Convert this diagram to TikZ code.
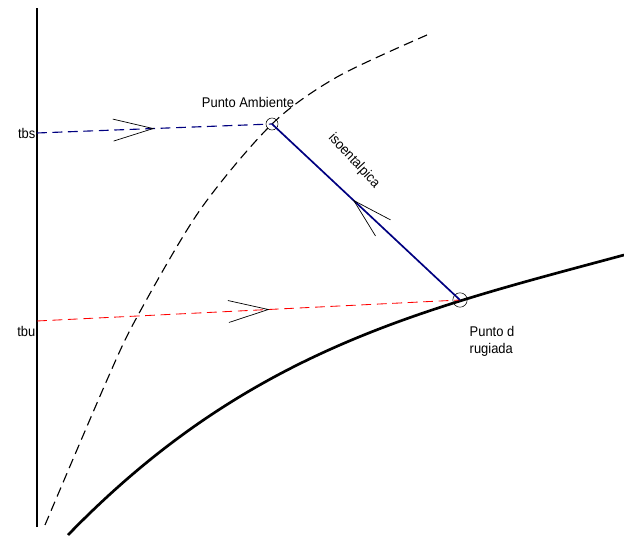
\documentclass[tikz,border=0pt]{standalone}
\usepackage{fontspec}
\usepackage{xcolor}
\usepackage{tikz}
\usetikzlibrary{arrows.meta, decorations.markings}
\newfontfamily\labelfont{Liberation Sans}[FakeStretch=0.92]
\definecolor{navyline}{RGB}{0, 0, 128}
\definecolor{redline}{RGB}{255, 0, 0}

\tikzset{
  chev/.style={postaction={decorate, decoration={markings,
    mark=at position #1 with {\arrow{Straight Barb[color=black, line width=0.5pt, length=1cm, width=0.55cm]}}}}},
  pto/.style={circle, draw, thin, inner sep=0pt},
  lbl/.style={font=\labelfont\fontsize{10}{12}\selectfont, inner sep=1pt}
}

\begin{document}
\begin{tikzpicture}
\useasboundingbox (0,0) rectangle (15.6,13.375);
% eje de temperaturas
\draw[line width=2pt] (0.925,0.2) -- (0.925,13.175);
% curva de saturacion
\draw[line width=1.9pt] (1.7,0) .. controls (6.2,4.64) and (10.6,5.65) .. (15.6,7);
% curva discontinua
\draw[line width=0.8pt, dash pattern=on 7pt off 4pt, smooth] plot coordinates {(1.125,0.25) (2.675,3.875) (3.425,5.45) (5,8.125) (6.8,10.275) (8.425,11.45) (10.675,12.5)};
% puntos
\node[pto, minimum size=0.3cm] (amb) at (6.8,10.275) {};
\node[pto, minimum size=0.36cm] (roc) at (11.5,5.875) {};
\coordinate (tbs) at (0.925,10.05);
\coordinate (tbu) at (0.925,5.35);
\node[lbl, left] at (tbs) {tbs};
\node[lbl, left] at (0.925,5.1) {tbu};
\node[lbl] (ambtxt) at (6.2,10.825) {Punto Ambiente};
\node[lbl, align=left] (roctxt) at (12.3,4.85) {Punto d\\rugiada};
% rectas
\draw[navyline, line width=0.8pt, dash pattern=on 7pt off 4pt, chev=0.5] (tbs) -- (amb.center);
\draw[redline, line width=0.6pt, dash pattern=on 7pt off 4pt, chev=0.55] (tbu) -- (roc.center);
\draw[navyline, line width=1.2pt, chev=0.57] (roc.center) -- (amb.center);
\node[lbl, rotate=-47] (iso) at (8.85,9.35) {isoentalpica};
\end{tikzpicture}
\end{document}
